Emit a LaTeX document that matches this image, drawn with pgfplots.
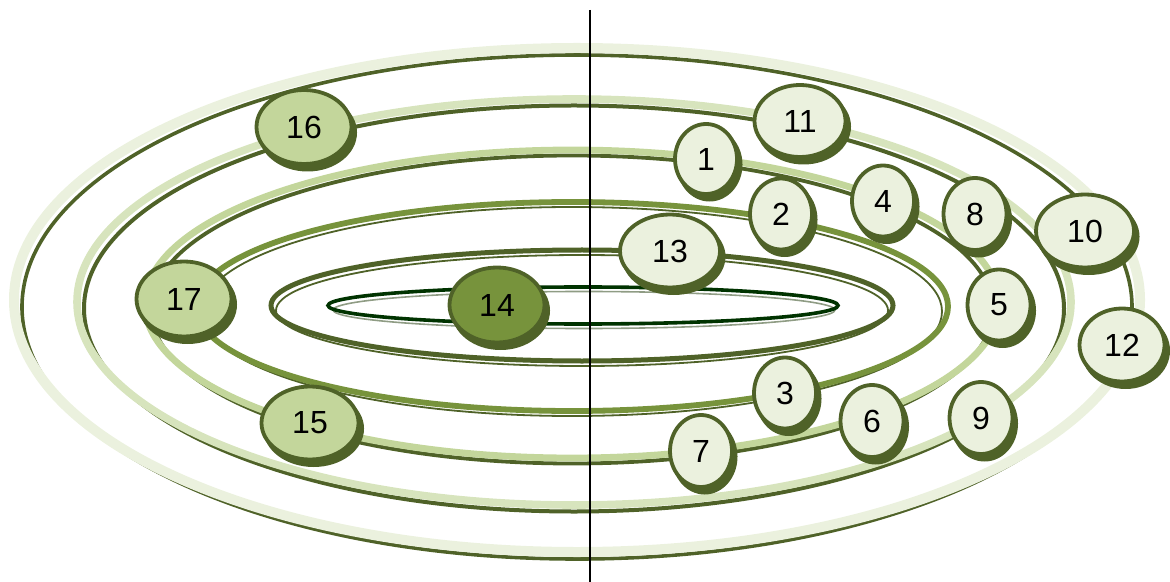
\documentclass[border=0pt]{standalone}
\usepackage{pgfplots}
\usepackage{pgfplotstable}
\pgfplotsset{compat=1.18}
\usepackage{fontspec}
\setmainfont{Liberation Sans}
\usetikzlibrary{shapes.geometric,shadows}
\definecolor{ringA}{HTML}{EBF1DE}
\definecolor{ringB}{HTML}{D7E4BD}
\definecolor{ringC}{HTML}{C3D69B}
\definecolor{midG}{HTML}{77933C}
\definecolor{darkO}{HTML}{4F6228}
\definecolor{deepG}{HTML}{003300}
\definecolor{greyG}{HTML}{8F9C84}

% bubbles: centre (px), outer width/height (px)
\pgfplotstableread{
x    y   w   h   lab
706  159 67  75  1
781  214 67  76  2
785  393 67  76  3
883  201 67  76  4
999  305 68  76  5
872  421 68  77  6
701  451 67  77  7
975  214 68  77  8
981  418 68  77  9
1085 231 103 78 10
800  121 96  77 11
1122 345 90  78 12
670  251 105 78 13
}\lightbub
\pgfplotstableread{
x    y   w   h   lab
304  127 100 79 16
184  299 100 80 17
310  423 102 78 15
}\midbub
\pgfplotstableread{
x    y   w   h   lab
497  305 100 80 14
}\darkbub

\begin{document}
\begin{tikzpicture}
\begin{axis}[
  scale only axis, width=585pt, height=291pt,
  xmin=0, xmax=1170, ymin=0, ymax=582, y dir=reverse,
  enlargelimits=false, hide axis, clip=false,
  bubble/.style={
    only marks, mark=none,
    point meta=explicit symbolic,
    visualization depends on={\thisrow{w} \as \bw},
    visualization depends on={\thisrow{h} \as \bh},
    nodes near coords={\pgfplotspointmeta},
    nodes near coords align={center},
    every node near coord/.style={
      anchor=center, ellipse, inner sep=0pt, draw=darkO, line width=1.9pt,
      fill=#1, text=black,
      font=\fontsize{16}{18}\selectfont,
      minimum width=\bw*0.5pt-2.5pt, minimum height=\bh*0.5pt-2.5pt,
      drop shadow={shadow xshift=1.8pt, shadow yshift=-2.8pt, fill=darkO, opacity=1}
    }
  }
]
% ring 1 (outermost)
\draw[darkO, line width=1.8pt] (axis cs:577,307) ellipse [x radius=555, y radius=252];
\draw[ringA, line width=5pt] (axis cs:577,300) ellipse [x radius=563, y radius=252];
% ring 2
\draw[darkO, line width=2pt] (axis cs:574,308.5) ellipse [x radius=490, y radius=203];
\draw[ringB, line width=3.8pt] (axis cs:574,302) ellipse [x radius=497, y radius=203];
% ring 3
\draw[darkO, line width=1.9pt] (axis cs:572,309.5) ellipse [x radius=421, y radius=154];
\draw[ringC, line width=3.4pt] (axis cs:572,304) ellipse [x radius=427, y radius=154];
% ring 4
\draw[darkO, line width=0.9pt] (axis cs:572,311.5) ellipse [x radius=370, y radius=104.5];
\draw[midG, line width=2.9pt] (axis cs:572,306.5) ellipse [x radius=376, y radius=104.5];
% ring 5
\draw[darkO, line width=0.9pt] (axis cs:582,310.5) ellipse [x radius=306, y radius=55.5];
\draw[darkO, line width=2.5pt] (axis cs:582,305.5) ellipse [x radius=311, y radius=55.5];
% ring 6 (innermost)
\draw[greyG, line width=0.8pt] (axis cs:584,310) ellipse [x radius=251, y radius=18.5];
\draw[deepG, line width=1.8pt] (axis cs:583,305.5) ellipse [x radius=255, y radius=18.5];
% vertical line
\draw[black, line width=1pt] (axis cs:590,10) -- (axis cs:590,582);
% bubbles
\addplot[bubble=ringA] table[x=x, y=y, meta=lab] {\lightbub};
\addplot[bubble=ringC] table[x=x, y=y, meta=lab] {\midbub};
\addplot[bubble=midG] table[x=x, y=y, meta=lab] {\darkbub};
\end{axis}
\pgfresetboundingbox
\useasboundingbox (current axis.south west) rectangle (current axis.north east);
\end{tikzpicture}
\end{document}
